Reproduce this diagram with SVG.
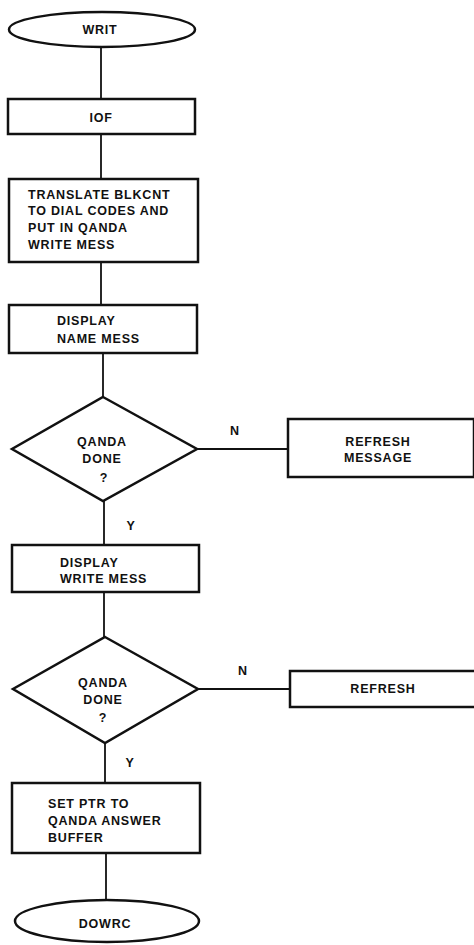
<svg xmlns="http://www.w3.org/2000/svg" width="474" height="945" viewBox="0 0 474 945">
<style>
.s{fill:#fff;stroke:#111;stroke-width:2.5}
.c{fill:none;stroke:#111;stroke-width:1.8}
text{font-family:"Liberation Sans",Arial,sans-serif;font-weight:bold;font-size:12.5px;letter-spacing:0.8px;fill:#111}
.m{text-anchor:middle}
</style>
<rect width="474" height="945" fill="#fff"/>
<g id="connectors">
<line class="c" x1="101" y1="47" x2="101" y2="99"/>
<line class="c" x1="101" y1="134" x2="101" y2="179"/>
<line class="c" x1="101" y1="262" x2="101" y2="305"/>
<line class="c" x1="103" y1="353" x2="103" y2="397"/>
<line class="c" x1="197" y1="449" x2="288" y2="449"/>
<line class="c" x1="104" y1="501" x2="104" y2="545"/>
<line class="c" x1="104" y1="592" x2="104" y2="637"/>
<line class="c" x1="198" y1="689" x2="290" y2="689"/>
<line class="c" x1="105" y1="743" x2="105" y2="783"/>
<line class="c" x1="106" y1="853" x2="106" y2="900"/>
<text x="235" y="435" class="m">N</text>
<text x="131" y="530" class="m">Y</text>
<text x="243" y="675" class="m">N</text>
<text x="130" y="767" class="m">Y</text>
</g>
<g id="writ">
<ellipse class="s" cx="102" cy="29.5" rx="93" ry="17.5"/>
<text x="100" y="34" class="m">WRIT</text>
</g>
<g id="iof">
<rect class="s" x="8" y="99" width="187" height="35"/>
<text x="101" y="122" class="m">IOF</text>
</g>
<g id="translate">
<rect class="s" x="9" y="179" width="189" height="83"/>
<text x="28" y="199">TRANSLATE BLKCNT</text>
<text x="28" y="215">TO DIAL CODES AND</text>
<text x="28" y="232">PUT IN QANDA</text>
<text x="28" y="249">WRITE MESS</text>
</g>
<g id="display-name">
<rect class="s" x="9" y="305" width="188" height="48"/>
<text x="57" y="325">DISPLAY</text>
<text x="57" y="343">NAME MESS</text>
</g>
<g id="qanda1">
<polygon class="s" points="103,397 197,449 103,501 12,449"/>
<text x="102" y="446" class="m">QANDA</text>
<text x="102" y="463" class="m">DONE</text>
<text x="104" y="482" class="m">?</text>
</g>
<g id="refresh-message">
<rect class="s" x="288" y="419" width="186" height="58"/>
<text x="378" y="446" class="m">REFRESH</text>
<text x="378" y="462" class="m">MESSAGE</text>
</g>
<g id="display-write">
<rect class="s" x="12" y="545" width="187" height="47"/>
<text x="60" y="567">DISPLAY</text>
<text x="60" y="583">WRITE MESS</text>
</g>
<g id="qanda2">
<polygon class="s" points="105,637 198,689 105,743 13,689"/>
<text x="103" y="687" class="m">QANDA</text>
<text x="103" y="704" class="m">DONE</text>
<text x="103" y="722" class="m">?</text>
</g>
<g id="refresh">
<rect class="s" x="290" y="671" width="186" height="36"/>
<text x="383" y="693" class="m">REFRESH</text>
</g>
<g id="setptr">
<rect class="s" x="12" y="783" width="188" height="70"/>
<text x="48" y="808">SET PTR TO</text>
<text x="48" y="825">QANDA ANSWER</text>
<text x="48" y="842">BUFFER</text>
</g>
<g id="dowrc">
<ellipse class="s" cx="107" cy="921" rx="92" ry="21"/>
<text x="105" y="928" class="m">DOWRC</text>
</g>
</svg>
